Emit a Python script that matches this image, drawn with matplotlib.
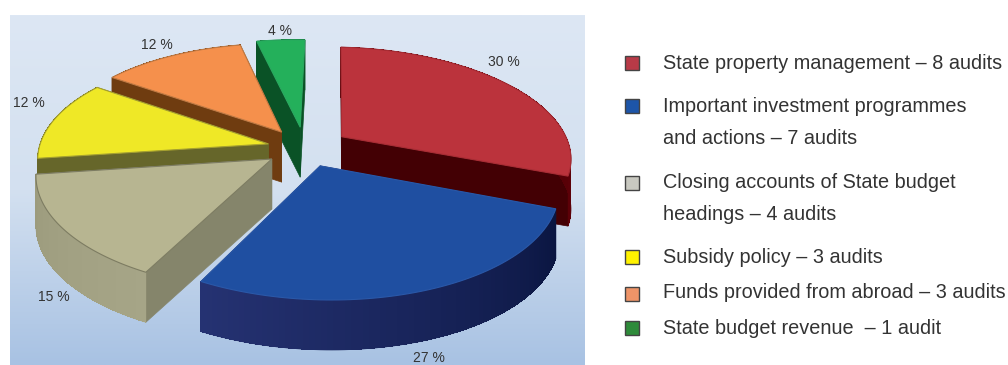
import numpy as np
import matplotlib
matplotlib.use('Agg')
import matplotlib.pyplot as plt
from matplotlib.patches import Rectangle

plt.rcParams['font.family'] = ['Liberation Sans', 'DejaVu Sans']

# audit shares in percent, clockwise from 12 o'clock
shares = [30, 27, 15, 12, 12, 4]
explode = [0.199, 0.173, 0.177, 0.164, 0.182, 0.202]

top_colors = ['#bb333c', '#1f4fa1', '#b7b591', '#efe826', '#f5904c', '#24b05b']
cut_colors = ['#430004', '#0b1742', '#85856b', '#66662a', '#6f3c10', '#0a5226']
wall_colors = [('#4a0004', '#5c0008'), ('#0a1540', '#253272'), ('#a6a587', '#9c9b7d'),
               ('#66662a', '#66662a'), ('#6f3c10', '#6f3c10'), ('#0a5226', '#0a5226')]
edge_colors = ['#a82c34', '#2a58a8', '#7d7c62', '#a5a030', '#c07a44', '#2aa860']

# slices are painted from the back of the pie to the front
paint_order = [5, 4, 3, 0, 2, 1]

label_pos = [(504, 62), (429, 358), (54, 297), (29, 103), (157, 45), (280, 31)]

legend_colors = ['#b83a47', '#1d55a8', '#c8c8c0', '#fff200', '#ee9468', '#2e8b3a']
legend_y = [62.5, 105.5, 183, 256.5, 294, 327.5]
# text and baseline of each legend line
legend_lines = [
    ('State property management \u2013 8 audits', 69),
    ('Important investment programmes', 112),
    ('and actions \u2013 7 audits', 144),
    ('Closing accounts of State budget', 188),
    ('headings \u2013 4 audits', 220),
    ('Subsidy policy \u2013 3 audits', 263),
    ('Funds provided from abroad \u2013 3 audits', 298),
    ('State budget revenue  \u2013 1 audit', 334),
]

# perspective view of the unit disc
VIEW = [227.078, 52.439, 304.867, 4.972, -83.721, 148.087, -0.00584, 0.15603]
DEPTH = 50


def project(u, v):
    w = VIEW[6] * u + VIEW[7] * v + 1
    return np.array([(VIEW[0] * u + VIEW[1] * v + VIEW[2]) / w,
                     (VIEW[3] * u + VIEW[4] * v + VIEW[5]) / w]).T


def draw_slice(ax, start, end, offset, i):
    mid = np.radians((start + end) / 2)
    ou, ov = offset * np.sin(mid), offset * np.cos(mid)
    theta = np.radians(np.linspace(start, end, 80))
    rim = project(ou + np.sin(theta), ov + np.cos(theta))
    apex = project(np.array([ou]), np.array([ov]))[0]
    shift = np.array([0, DEPTH])

    # cut faces, the one further back first
    faces = sorted([rim[0], rim[-1]], key=lambda p: p[1])
    for p in faces:
        quad = np.array([apex, p, p + shift, apex + shift])
        ax.fill(quad[:, 0], quad[:, 1], color=cut_colors[i], lw=0.5, zorder=2)

    # outer wall, shaded along the arc
    c0, c1 = [np.array(matplotlib.colors.to_rgb(c)) for c in wall_colors[i]]
    outline = np.vstack([rim, rim[::-1] + shift])
    ax.fill(outline[:, 0], outline[:, 1], color=(c0 + c1) / 2, lw=0.5, zorder=2)
    for k in range(len(rim) - 1):
        quad = np.array([rim[k], rim[k + 1], rim[k + 1] + shift, rim[k] + shift])
        c = c0 + (c1 - c0) * k / (len(rim) - 2)
        ax.fill(quad[:, 0], quad[:, 1], color=c, lw=0, antialiased=False, zorder=2)

    top = np.vstack([apex, rim])
    ax.fill(top[:, 0], top[:, 1], facecolor=top_colors[i], edgecolor=edge_colors[i], lw=0.8, zorder=2)


fig = plt.figure(figsize=(10.08, 3.65), dpi=100)
ax = fig.add_axes([0, 0, 1, 1])
ax.axis('off')

# panel behind the pie
grad = np.linspace(0, 1, 256).reshape(-1, 1)
cmap = matplotlib.colors.LinearSegmentedColormap.from_list('panel', ['#dde7f4', '#d3e0f0', '#a8c2e3'])
ax.imshow(grad, extent=(10, 585, 365, 15), cmap=cmap, aspect='auto', zorder=0)
ax.set_xlim(0, 1008)
ax.set_ylim(365, 0)

edges = np.cumsum([0] + shares) * 3.6
for i in paint_order:
    draw_slice(ax, edges[i], edges[i + 1], explode[i], i)

for share, (x, y) in zip(shares, label_pos):
    ax.text(x, y, '%d %%' % share, fontsize=10, color='#333333', ha='center', va='center', zorder=3)

for color, y in zip(legend_colors, legend_y):
    ax.add_patch(Rectangle((625, y - 7), 14, 14, facecolor=color, edgecolor='#444444', lw=1, zorder=3))

for line, y in legend_lines:
    ax.text(663, y, line, fontsize=14.3, color='#333333', ha='left', va='baseline', zorder=3)

fig.savefig('out.png', dpi=100)
